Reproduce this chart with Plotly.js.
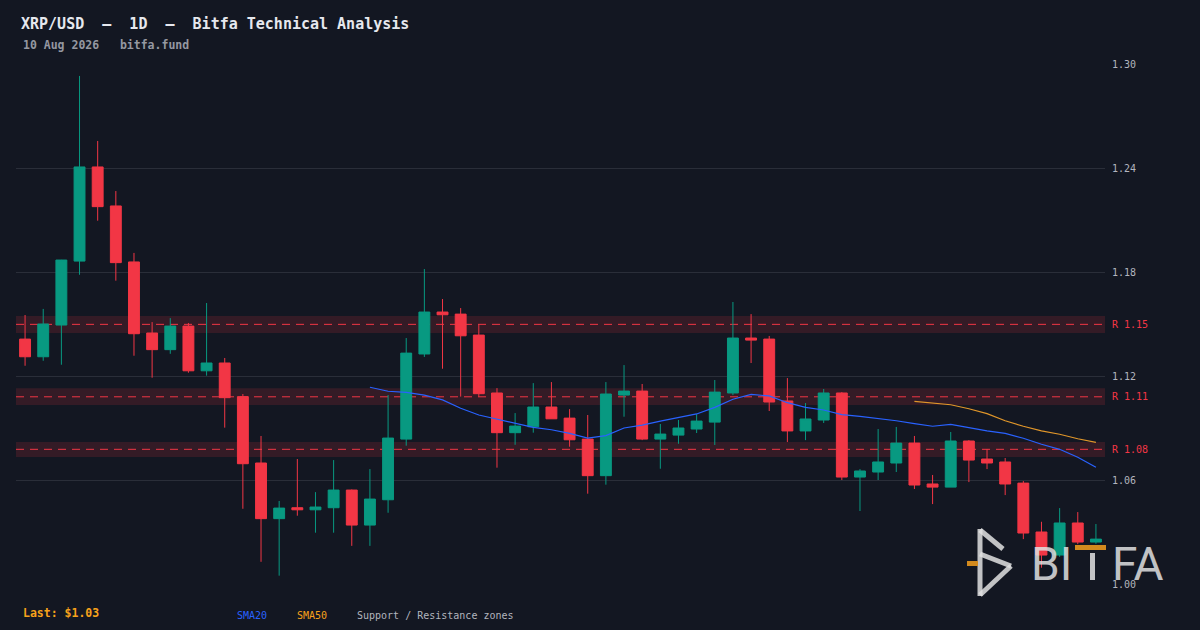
<!DOCTYPE html>
<html>
<head>
<meta charset="utf-8">
<script src="https://cdn.plot.ly/plotly-3.0.1.min.js"></script>
<style>
  html, body { margin: 0; padding: 0; background: #131722; }
  #chart { width: 1200px; height: 630px; }
</style>
</head>
<body>
<div id="chart"></div>
<script>
// ---------- data ----------
const openP  = [1.1413,1.1311,1.1494,1.1863,1.2406,1.2181,1.1858,1.1448,1.1352,1.1488,
                1.1230,1.1275,1.1081,1.0698,1.0377,1.0440,1.0428,1.0440,1.0542,1.0340,
                1.0486,1.0836,1.1327,1.1569,1.1557,1.1436,1.1102,1.0873,1.0907,1.1021,
                1.0957,1.0836,1.0625,1.1090,1.1113,1.0836,1.0859,1.0894,1.0934,1.1102,
                1.1419,1.1413,1.1056,1.0883,1.0946,1.1102,1.0617,1.0646,1.0698,1.0813,
                1.0577,1.0559,1.0825,1.0721,1.0704,1.0582,1.0300,1.0167,1.0352,1.0242];
const highP  = [1.1552,1.1587,1.1870,1.2931,1.2556,1.2267,1.1910,1.1511,1.1534,1.1506,
                1.1621,1.1304,1.1096,1.0854,1.0479,1.0721,1.0530,1.0715,1.0545,1.0663,
                1.1090,1.1419,1.1817,1.1644,1.1592,1.1498,1.1130,1.0986,1.1159,1.1165,
                1.1009,1.0975,1.1165,1.1263,1.1154,1.0923,1.0946,1.0980,1.1177,1.1627,
                1.1557,1.1431,1.1188,1.1044,1.1125,1.1107,1.0663,1.0894,1.0906,1.0854,
                1.0629,1.0877,1.0830,1.0779,1.0727,1.0594,1.0359,1.0438,1.0415,1.0346];
const lowP   = [1.1259,1.1288,1.1265,1.1784,1.2096,1.1750,1.1317,1.1190,1.1328,1.1219,
                1.1202,1.0902,1.0434,1.0128,1.0048,1.0394,1.0296,1.0296,1.0220,1.0220,
                1.0411,1.0798,1.1310,1.1242,1.1081,1.1081,1.0671,1.0803,1.0873,1.0953,
                1.0792,1.0521,1.0573,1.0965,1.0830,1.0665,1.0809,1.0871,1.0802,1.1090,
                1.1275,1.0998,1.0819,1.0830,1.0929,1.0600,1.0421,1.0600,1.0646,1.0548,
                1.0461,1.0559,1.0588,1.0663,1.0513,1.0259,1.0094,1.0157,1.0230,1.0232];
const closeP = [1.1311,1.1500,1.1869,1.2406,1.2177,1.1854,1.1444,1.1352,1.1488,1.1230,
                1.1275,1.1075,1.0694,1.0377,1.0438,1.0428,1.0444,1.0542,1.0340,1.0490,
                1.0842,1.1332,1.1569,1.1553,1.1432,1.1098,1.0873,1.0911,1.1021,1.0953,
                1.0832,1.0625,1.1096,1.1113,1.0836,1.0865,1.0900,1.0940,1.1107,1.1419,
                1.1407,1.1050,1.0883,1.0952,1.1102,1.0617,1.0652,1.0704,1.0813,1.0571,
                1.0559,1.0825,1.0715,1.0698,1.0577,1.0294,1.0167,1.0352,1.0242,1.0259];

// SMA values (start at candle index shown)
const sma20Start = 19;
const sma20 = [1.1135,1.1112,1.1106,1.1090,1.1062,1.1014,1.0975,1.0950,1.0927,1.0904,
               1.0890,1.0869,1.0842,1.0856,1.0900,1.0917,1.0940,1.0959,1.0981,1.1019,
               1.1066,1.1094,1.1085,1.1046,1.1019,1.1004,1.0977,1.0967,1.0956,1.0942,
               1.0925,1.0910,1.0921,1.0902,1.0883,1.0869,1.0841,1.0806,1.0777,1.0731,
               1.0673];
const sma50Start = 49;
const sma50 = [1.1054,1.1046,1.1034,1.1011,1.0983,1.0942,1.0910,1.0883,1.0864,1.0838,1.0817];

// support / resistance zones
const zoneLevel  = [1.1498, 1.1080, 1.0777];
const zoneLow    = [1.1448, 1.1033, 1.0732];
const zoneHigh   = [1.1546, 1.1129, 1.0819];
const zoneLabels = ['R 1.15', 'R 1.11', 'R 1.08'];

// axis ticks
const yTicks = [1.00, 1.06, 1.12, 1.18, 1.24, 1.30];

const lastPrice = 1.03;

// ---------- styling ----------
const BG = '#131722', GRID = '#2a2e39', UP = '#089981', DOWN = '#F23645';
const BLUE = '#2962FF', ORANGE = '#F7A21B', ORANGE_LINE = '#E0962A';
const MONO = 'DejaVu Sans Mono, monospace';
const W = 1200, H = 630, ML = 16, MR = 95, MT = 64, MB = 46;
const PW = W - ML - MR, PH = H - MT - MB;
const px = x => (x - ML) / PW;          // pixel -> paper x
const py = y => (H - MB - y) / PH;      // pixel -> paper y

const days = openP.map((_, i) => i);

const traces = [
  {
    type: 'candlestick',
    x: days, open: openP, high: highP, low: lowP, close: closeP,
    increasing: { line: { color: UP, width: 1 }, fillcolor: UP },
    decreasing: { line: { color: DOWN, width: 1 }, fillcolor: DOWN },
    whiskerwidth: 0,
    hoverinfo: 'skip',
    showlegend: false
  },
  {
    type: 'scatter', mode: 'lines',
    x: sma20.map((_, i) => sma20Start + i), y: sma20,
    line: { color: BLUE, width: 1.2 }, hoverinfo: 'skip', showlegend: false
  },
  {
    type: 'scatter', mode: 'lines',
    x: sma50.map((_, i) => sma50Start + i), y: sma50,
    line: { color: ORANGE_LINE, width: 1.2 }, hoverinfo: 'skip', showlegend: false
  }
];

const shapes = [];
const annotations = [];
zoneLevel.forEach((lv, i) => {
  shapes.push({ type: 'rect', xref: 'paper', yref: 'y', x0: 0, x1: 1, y0: zoneLow[i], y1: zoneHigh[i],
                fillcolor: 'rgba(242,54,69,0.15)', line: { width: 0 }, layer: 'below' });
  shapes.push({ type: 'line', xref: 'paper', yref: 'y', x0: 0, x1: 1, y0: lv, y1: lv,
                line: { color: DOWN, width: 1, dash: '8px,6px' }, layer: 'below' });
  annotations.push({ xref: 'paper', yref: 'y', x: 1, y: lv, xanchor: 'left', yanchor: 'middle',
                     xshift: 5, text: zoneLabels[i], showarrow: false,
                     font: { family: MONO, size: 10, color: DOWN } });
});

// subtitle
annotations.push({ xref: 'paper', yref: 'paper', x: px(21), y: py(45), xanchor: 'left', yanchor: 'middle',
  text: '<b>10\u00a0Aug\u00a02026\u00a0\u00a0\u00a0bitfa.fund</b>', showarrow: false,
  font: { family: MONO, size: 11.5, color: '#9598a1' } });
// footer
annotations.push({ xref: 'paper', yref: 'paper', x: px(21), y: py(613), xanchor: 'left', yanchor: 'middle',
  text: '<b>Last:\u00a0$' + lastPrice.toFixed(2) + '</b>', showarrow: false,
  font: { family: MONO, size: 11.5, color: ORANGE } });
annotations.push({ xref: 'paper', yref: 'paper', x: px(235), y: py(615), xanchor: 'left', yanchor: 'middle',
  text: 'SMA20', showarrow: false, font: { family: MONO, size: 10, color: BLUE } });
annotations.push({ xref: 'paper', yref: 'paper', x: px(295), y: py(615), xanchor: 'left', yanchor: 'middle',
  text: 'SMA50', showarrow: false, font: { family: MONO, size: 10, color: ORANGE } });
annotations.push({ xref: 'paper', yref: 'paper', x: px(355), y: py(615), xanchor: 'left', yanchor: 'middle',
  text: 'Support\u00a0/\u00a0Resistance\u00a0zones', showarrow: false, font: { family: MONO, size: 10, color: '#b2b5be' } });

// watermark logo
const LOGO = 'rgba(226,226,226,0.85)';
const seg = (x0, y0, x1, y1, color, w) => shapes.push({
  type: 'line', xref: 'paper', yref: 'paper', x0: px(x0), y0: py(y0), x1: px(x1), y1: py(y1),
  line: { color: color, width: w }, layer: 'above' });
seg(980, 529, 980, 596, LOGO, 5);
seg(980, 530, 1003, 549, LOGO, 5);
seg(980, 554, 1011, 566, LOGO, 5);
seg(1011, 566, 980, 595, LOGO, 5);
seg(967, 563.5, 978, 563.5, '#D38A1E', 5);
seg(1075, 547.5, 1106, 547.5, '#D38A1E', 5);
seg(1092.5, 553, 1092.5, 580, LOGO, 5);
annotations.push({ xref: 'paper', yref: 'paper', x: px(1029), y: py(563.5), xanchor: 'left', yanchor: 'middle',
  text: 'BI', showarrow: false, font: { family: 'Roboto, sans-serif', size: 46, color: LOGO } });
annotations.push({ xref: 'paper', yref: 'paper', x: px(1110), y: py(563.5), xanchor: 'left', yanchor: 'middle',
  text: 'FA', showarrow: false, font: { family: 'Roboto, sans-serif', size: 46, color: LOGO } });

const layout = {
  width: W, height: H,
  paper_bgcolor: BG, plot_bgcolor: BG,
  margin: { l: ML, r: MR, t: MT, b: MB, pad: 0 },
  showlegend: false,
  boxgap: 0.4, boxgroupgap: 0,
  title: {
    text: '<b>XRP/USD\u00a0\u00a0—\u00a0\u00a01D\u00a0\u00a0—\u00a0\u00a0Bitfa Technical Analysis</b>',
    font: { family: MONO, size: 15, color: '#e6e8ee' },
    x: 21 / W, xref: 'container', xanchor: 'left',
    y: 1 - 24 / H, yref: 'container', yanchor: 'middle'
  },
  xaxis: {
    type: 'linear', range: [-0.5, 59.5], showgrid: false, zeroline: false,
    showticklabels: false, showline: false, ticks: '', rangeslider: { visible: false }, fixedrange: true
  },
  yaxis: {
    side: 'right', range: [1.0, 1.3], tickvals: yTicks, ticktext: yTicks.map(v => v.toFixed(2)),
    showgrid: true, gridcolor: GRID, gridwidth: 1, zeroline: false, showline: false,
    ticks: '', ticklabelstandoff: 6,
    tickfont: { family: MONO, size: 10, color: '#b2b5be' }, fixedrange: true
  },
  shapes: shapes,
  annotations: annotations,
  hovermode: false
};

Plotly.newPlot('chart', traces, layout, { staticPlot: true, displayModeBar: false });
</script>
</body>
</html>
